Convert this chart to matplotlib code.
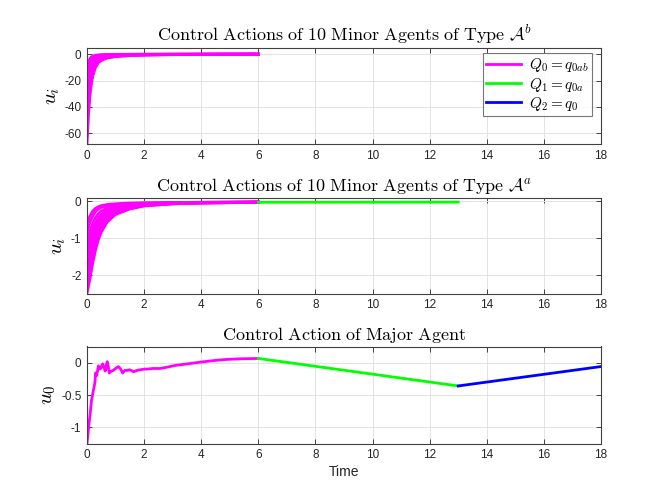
import matplotlib
matplotlib.use("Agg")
import matplotlib.pyplot as plt

# ---------------- data ----------------
# Minor agents of type A^b (top panel), phase Q0 (t in [0, 6])
t_b = [0, 0.05, 0.1, 0.15, 0.2, 0.3, 0.4, 0.5, 0.7, 1.0, 1.5, 2, 3, 4, 6]
u_b = [
    [-12, -6.5, -3.5, -2.2, -1.5, -0.9, -0.6, -0.45, -0.3, -0.2, -0.15, -0.1, -0.08, -0.06, -0.05],
    [-18, -10, -5.8, -3.6, -2.4, -1.4, -0.95, -0.7, -0.45, -0.3, -0.2, -0.14, -0.1, -0.07, -0.05],
    [-24, -14, -8.5, -5.3, -3.6, -2.1, -1.4, -1.0, -0.65, -0.42, -0.27, -0.18, -0.12, -0.08, -0.06],
    [-30, -18, -11.5, -7.3, -5.0, -2.9, -1.9, -1.4, -0.9, -0.58, -0.36, -0.24, -0.15, -0.1, -0.07],
    [-36, -23, -14.5, -9.5, -6.6, -3.8, -2.5, -1.8, -1.15, -0.75, -0.46, -0.3, -0.18, -0.12, -0.08],
    [-42, -27, -18, -12, -8.4, -4.8, -3.2, -2.3, -1.45, -0.93, -0.57, -0.37, -0.22, -0.14, -0.09],
    [-48, -32, -21.5, -14.5, -10.3, -6.0, -4.0, -2.9, -1.8, -1.15, -0.7, -0.45, -0.26, -0.17, -0.1],
    [-55, -37, -25, -17.5, -12.5, -7.3, -4.9, -3.5, -2.2, -1.4, -0.85, -0.55, -0.31, -0.2, -0.11],
    [-62, -42, -29, -20.5, -14.8, -8.6, -5.8, -4.2, -2.6, -1.65, -1.0, -0.65, -0.36, -0.23, -0.12],
    [-68, -46, -32, -23, -16.8, -9.9, -6.6, -4.8, -3.0, -1.9, -1.15, -0.75, -0.4, -0.25, -0.13],
]

# Minor agents of type A^a (middle panel), phase Q0 (t in [0, 6])
t_a = [0, 0.1, 0.2, 0.3, 0.4, 0.5, 0.7, 1.0, 1.5, 2, 3, 4, 6]
u_a = [
    [-0.6, -0.4, -0.27, -0.19, -0.15, -0.12, -0.09, -0.07, -0.05, -0.045, -0.035, -0.03, -0.02],
    [-0.85, -0.58, -0.4, -0.28, -0.21, -0.17, -0.12, -0.09, -0.065, -0.05, -0.04, -0.03, -0.02],
    [-1.1, -0.82, -0.6, -0.44, -0.34, -0.27, -0.18, -0.13, -0.09, -0.065, -0.045, -0.035, -0.025],
    [-1.3, -1.0, -0.76, -0.58, -0.45, -0.36, -0.24, -0.16, -0.1, -0.075, -0.05, -0.035, -0.025],
    [-1.5, -1.18, -0.91, -0.71, -0.56, -0.45, -0.3, -0.2, -0.12, -0.085, -0.05, -0.04, -0.025],
    [-1.7, -1.37, -1.08, -0.85, -0.68, -0.55, -0.37, -0.24, -0.14, -0.095, -0.055, -0.04, -0.03],
    [-1.9, -1.55, -1.24, -0.99, -0.79, -0.64, -0.44, -0.28, -0.16, -0.105, -0.06, -0.045, -0.03],
    [-2.1, -1.74, -1.40, -1.12, -0.9, -0.73, -0.5, -0.31, -0.18, -0.115, -0.065, -0.045, -0.03],
    [-2.3, -1.93, -1.55, -1.23, -0.97, -0.79, -0.54, -0.34, -0.2, -0.12, -0.07, -0.05, -0.03],
    [-2.5, -2.12, -1.68, -1.32, -1.04, -0.84, -0.57, -0.36, -0.21, -0.13, -0.07, -0.05, -0.03],
]
# phase Q1 for type A^a
t_a_q1 = [6, 13]
u_a_q1 = [-0.03, -0.025]

# Major agent (bottom panel)
t0_q0 = [0, 0.16, 0.28, 0.3, 0.34, 0.4, 0.44, 0.48, 0.52, 0.55, 0.6, 0.64, 0.68, 0.71, 0.74,
         0.78, 0.85, 0.92, 1.0, 1.1, 1.18, 1.25, 1.32, 1.4, 1.5, 1.63, 1.75, 1.86, 2.0, 2.1,
         2.3, 2.56, 2.8, 3.13, 3.5, 4.0, 4.5, 4.88, 5.4, 6.0]
u0_q0 = [-1.245, -0.58, -0.3, -0.16, -0.2, -0.05, -0.1, -0.09, -0.04, -0.02, -0.08, -0.13, -0.03,
         0.015, -0.05, -0.16, -0.13, -0.12, -0.09, -0.06, -0.1, -0.16, -0.12, -0.12, -0.11, -0.14,
         -0.12, -0.11, -0.1, -0.1, -0.09, -0.09, -0.07, -0.04, -0.02, 0.01, 0.035, 0.05, 0.06, 0.065]
t0_q1 = [6, 13]
u0_q1 = [0.065, -0.36]
t0_q2 = [13, 18]
u0_q2 = [-0.36, -0.06]

titles = [r'$\mathrm{Control\ Actions\ of\ 10\ Minor\ Agents\ of\ Type\ }\mathcal{A}^b$',
          r'$\mathrm{Control\ Actions\ of\ 10\ Minor\ Agents\ of\ Type\ }\mathcal{A}^a$',
          r'$\mathrm{Control\ Action\ of\ Major\ Agent}$']
legend_labels = [r'$Q_0 = q_{0ab}$', r'$Q_1 = q_{0a}$', r'$Q_2 = q_0$']
xticks = [0, 2, 4, 6, 8, 10, 12, 14, 16, 18]

# ---------------- style ----------------
plt.rcParams['mathtext.fontset'] = 'cm'
plt.rcParams['font.family'] = 'Liberation Sans'
plt.rcParams['axes.unicode_minus'] = False

MAG = '#FF00FF'
GRN = '#00FF00'
BLU = '#0000FF'
AXC = '#404040'

fig = plt.figure(figsize=(6.64, 4.98), dpi=100)
L, W = 87 / 664, (601 - 87) / 664
rects = [(L, 1 - 144 / 498, W, (144 - 47.5) / 498),
         (L, 1 - 293.5 / 498, W, (293.5 - 197.5) / 498),
         (L, 1 - 443.5 / 498, W, (443.5 - 346.5) / 498)]
axes = [fig.add_axes(r) for r in rects]


def style(ax, ylim, yticks, ylabel):
    ax.set_xlim(0, 18)
    ax.set_ylim(*ylim)
    ax.set_xticks(xticks)
    ax.set_yticks(yticks)
    ax.set_yticklabels([('%g' % v) for v in yticks])
    ax.grid(True, color='#e3e3e3', lw=0.7)
    ax.set_axisbelow(True)
    for s in ax.spines.values():
        s.set_color(AXC)
        s.set_linewidth(0.8)
    ax.tick_params(direction='in', length=3.5, width=0.7, color=AXC, labelcolor='#262626',
                   labelsize=8.5, top=True, right=True, pad=4)
    ax.set_ylabel(ylabel, fontsize=15, labelpad=2)


# top
ax = axes[0]
for u in u_b:
    ax.plot(t_b, u, color=MAG, lw=2)
style(ax, (-68, 5), [-60, -40, -20, 0], r'$u_i$')
ax.set_title(titles[0], fontsize=13, pad=5)
h0, = ax.plot([], [], color=MAG, lw=2)
h1, = ax.plot([], [], color=GRN, lw=2)
h2, = ax.plot([], [], color=BLU, lw=2)
leg = ax.legend([h0, h1, h2], legend_labels, loc='upper right', bbox_to_anchor=(0.982, 0.94),
                borderaxespad=0, fancybox=False, fontsize=11, handlelength=2.3,
                labelspacing=0.08, borderpad=0.2, handletextpad=0.5)
leg.get_frame().set_edgecolor('#555555')
leg.get_frame().set_linewidth(0.8)

# middle
ax = axes[1]
for u in u_a:
    ax.plot(t_a, u, color=MAG, lw=2)
ax.plot(t_a_q1, u_a_q1, color=GRN, lw=2)
style(ax, (-2.5, 0.1), [-2, -1, 0], r'$u_i$')
ax.set_title(titles[1], fontsize=13, pad=5)

# bottom
ax = axes[2]
ax.plot(t0_q0, u0_q0, color=MAG, lw=2)
ax.plot(t0_q1, u0_q1, color=GRN, lw=2)
ax.plot(t0_q2, u0_q2, color=BLU, lw=2)
style(ax, (-1.25, 0.25), [-1, -0.5, 0], r'$u_0$')
ax.set_title(titles[2], fontsize=13, pad=5)
ax.set_xlabel('Time', fontsize=10, color='#262626', labelpad=3)

fig.savefig('out.png', dpi=100)
